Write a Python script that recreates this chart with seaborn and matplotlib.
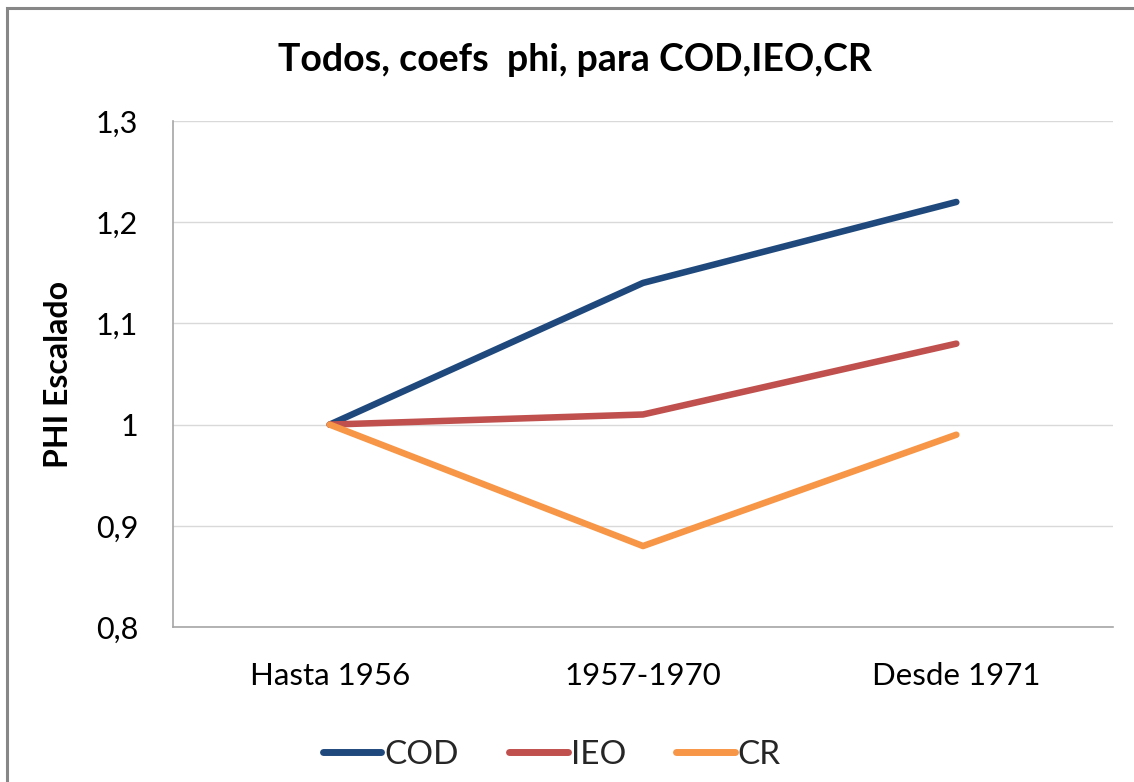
import matplotlib
matplotlib.use("Agg")
import matplotlib.pyplot as plt
import seaborn as sns
import pandas as pd
from matplotlib.patches import Rectangle
from matplotlib.lines import Line2D
from matplotlib.ticker import FuncFormatter, FixedLocator

categories = ["Hasta 1956", "1957-1970", "Desde 1971"]
cod = [1.00, 1.14, 1.22]
ieo = [1.00, 1.01, 1.08]
cr = [1.00, 0.88, 0.99]
series_names = ["COD", "IEO", "CR"]
colors = ["#1F497D", "#C0504D", "#F79646"]
yticks = [0.8, 0.9, 1.0, 1.1, 1.2, 1.3]

sns.set_theme(style="white")
plt.rcParams['font.family'] = ['Lato', 'DejaVu Sans']

rows = []
for name, vals in zip(series_names, [cod, ieo, cr]):
    for i, (c, v) in enumerate(zip(categories, vals)):
        rows.append({"pos": i, "cat": c, "serie": name, "val": v})
df = pd.DataFrame(rows)

fig = plt.figure(figsize=(11.34, 7.82), dpi=100)
ax = fig.add_axes([173/1134, 1-627/782, (1113-173)/1134, (627-121)/782])

sns.lineplot(data=df, x="pos", y="val", hue="serie", hue_order=series_names,
             palette=colors, linewidth=4.7, ax=ax, sort=False,
             solid_capstyle="round", legend=False)

ax.set_xlim(-0.5, 2.5)
ax.set_ylim(0.8, 1.3)
ax.xaxis.set_major_locator(FixedLocator([0, 1, 2]))
ax.set_xticklabels(categories)
ax.yaxis.set_major_locator(FixedLocator(yticks))
ax.yaxis.set_major_formatter(FuncFormatter(
    lambda v, p: ("%g" % round(v, 1)).replace(".", ",")))
ax.tick_params(axis="x", labelsize=22.5, length=0, pad=25)
ax.tick_params(axis="y", labelsize=22, length=0, pad=25)
for t in ax.get_xticklabels() + ax.get_yticklabels():
    t.set_color("#000000")

ax.grid(axis="y", color="#D9D9D9", linewidth=1)
ax.set_axisbelow(True)
for s in ["top", "right"]:
    ax.spines[s].set_visible(False)
for s in ["left", "bottom"]:
    ax.spines[s].set_visible(True)
    ax.spines[s].set_color("#A6A6A6")
    ax.spines[s].set_linewidth(1.2)

ax.set_xlabel("")
ax.set_ylabel("PHI Escalado", fontsize=23, fontweight="bold", labelpad=14, color="black")
ax.yaxis.set_label_coords(-100/940, 0.5)

fig.text(575/1134, 1-60/782, "Todos, coefs  phi, para COD,IEO,CR", ha="center", va="center",
         fontsize=27, fontweight="bold", color="black")

handles = [Line2D([0], [0], color=c, linewidth=5, solid_capstyle="round") for c in colors]
fig.legend(handles, series_names, loc="center", bbox_to_anchor=(552/1134, 1-755/782),
           ncol=3, frameon=False, fontsize=24, handlelength=1.75, handletextpad=0.1,
           columnspacing=1.5)

fig.patches.append(Rectangle((7/1134, -0.1), 1.2, 1-8/782+0.1, transform=fig.transFigure,
                             fill=False, edgecolor="#878787", linewidth=2.2, figure=fig))

fig.savefig("out.png", dpi=100)
